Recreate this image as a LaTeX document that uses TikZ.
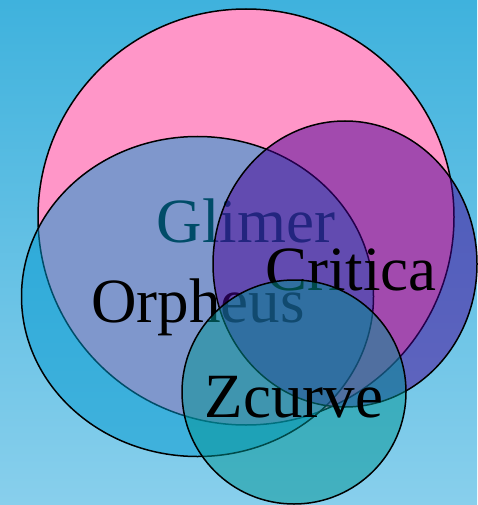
\documentclass[tikz,border=0pt]{standalone}
\usepackage{fontspec}
\setmainfont{Liberation Serif}
\definecolor{bgtop}{RGB}{63,178,221}
\definecolor{bgbot}{RGB}{136,207,236}
\definecolor{glimerc}{RGB}{255,150,200}
\definecolor{orpheusc}{RGB}{0,152,208}
\definecolor{criticac}{RGB}{70,0,150}
\definecolor{zcurvec}{RGB}{0,148,148}
\tikzset{
  setshape/.style={draw=black, line width=1.5pt},
  halfset/.style={setshape, fill opacity=0.5},
  setlabel/.style={anchor=base, inner sep=0pt, font=\fontsize{63}{63}\selectfont, text=black}
}
\begin{document}
\begin{tikzpicture}[x=1pt,y=-1pt]
\useasboundingbox (0,0) rectangle (477,505);
\shade[top color=bgtop, bottom color=bgbot] (0,0) rectangle (477,505);
% Glimer
\draw[setshape, fill=glimerc] (246,217) circle [radius=208pt];
\node[setlabel] (glimer) at (246,242) {Glimer};
% Orpheus
\draw[halfset, fill=orpheusc] (197.5,296.5) ellipse [x radius=176pt, y radius=160pt];
\node[setlabel] (orpheus) at (198,322) {Orpheus};
% Critica
\draw[halfset, fill=criticac] (345,264) ellipse [x radius=132pt, y radius=143pt];
\node[setlabel] (critica) at (351,290) {Critica};
% Zcurve
\draw[halfset, fill=zcurvec] (294,392) circle [radius=112pt];
\node[setlabel] (zcurve) at (294,417) {Zcurve};
\end{tikzpicture}
\end{document}
